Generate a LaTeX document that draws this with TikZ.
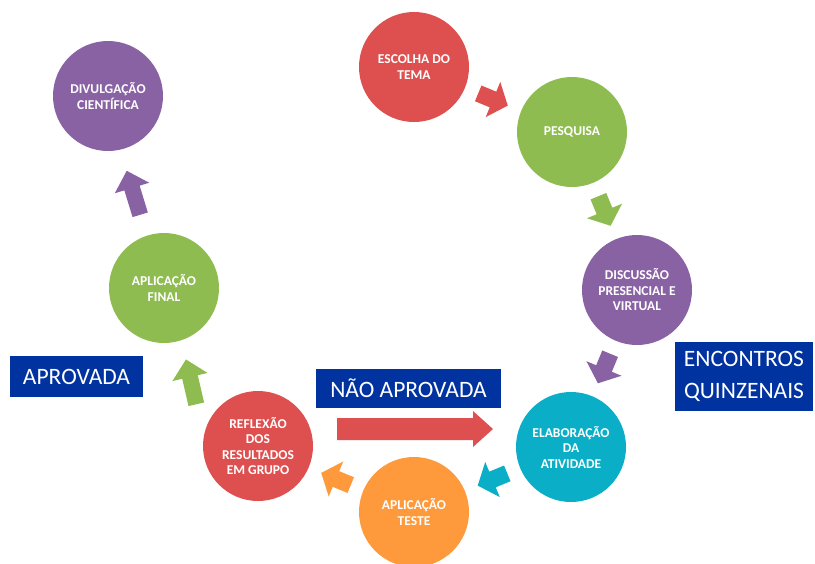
\documentclass[tikz,border=0pt]{standalone}
\usepackage{fontspec}
\setmainfont{Carlito}
\usetikzlibrary{calc}

\definecolor{cred}{HTML}{DE5050}
\definecolor{cgreen}{HTML}{8EBC50}
\definecolor{cpurple}{HTML}{8962A3}
\definecolor{cteal}{HTML}{0AAEC6}
\definecolor{corange}{HTML}{FE9A3C}
\definecolor{cblue}{HTML}{0033A0}

\begin{document}
\begin{tikzpicture}[x=1pt,y=-1pt,
  stage/.style={circle, minimum size=110pt, inner sep=0pt, text=white,
    align=center, font=\fontsize{13.5}{15.5}\selectfont\bfseries},
  tag/.style={fill=cblue, text=white, inner sep=0pt, align=center,
    font=\fontsize{23.5}{32}\selectfont},
  % short block arrow, origin at the base of the head
  arrowA/.pic={\path[pic actions] (-16,-8.5) -- (0,-8.5) -- (0,-19) -- (16,0)
      -- (0,19) -- (0,8.5) -- (-16,8.5) -- cycle;},
  % long block arrow, origin at the base of the head
  arrowB/.pic={\path[pic actions] (-28,-8) -- (0,-8) -- (0,-18) -- (18,0)
      -- (0,18) -- (0,8) -- (-28,8) -- cycle;},
]
\useasboundingbox (0,0) rectangle (815,563);

% stages of the cycle
\node[stage, fill=cred]    (tema)  at (414,67)  {ESCOLHA DO\\TEMA};
\node[stage, fill=cgreen]  (pesq)  at (572,132) {PESQUISA};
\node[stage, fill=cpurple] (disc)  at (637,290) {DISCUSSÃO\\PRESENCIAL E\\VIRTUAL};
\node[stage, fill=cteal]   (elab)  at (571,447) {ELABORAÇÃO\\DA\\ATIVIDADE};
\node[stage, fill=corange] (teste) at (414,512) {APLICAÇÃO\\TESTE};
\node[stage, fill=cred]    (refl)  at (258,446) {REFLEXÃO\\DOS\\RESULTADOS\\EM GRUPO};
\node[stage, fill=cgreen]  (final) at (164,288) {APLICAÇÃO\\FINAL};
\node[stage, fill=cpurple] (divul) at (108,96)  {DIVULGAÇÃO\\CIENTÍFICA};

% block arrows between the stages
\pic[fill=cred,    rotate=-22.5]  at ($(tema)!0.5!(pesq)$)  {arrowA};
\pic[fill=cgreen,  rotate=-67.5]  at ($(pesq)!0.5!(disc)$)  {arrowA};
\pic[fill=cpurple, rotate=-112.5] at ($(disc)!0.5!(elab)$)  {arrowA};
\pic[fill=cteal,   rotate=-157.5] at ($(elab)!0.5!(teste)$) {arrowA};
\pic[fill=corange, rotate=157.5]  at ($(teste)!0.5!(refl)$) {arrowA};
\pic[fill=cgreen,  rotate=103]    at (190,377) {arrowB};
\pic[fill=cpurple, rotate=107]    at (132,188) {arrowB};

% return arrow from the reflection back to the elaboration
\fill[cred] (337,418) -- (473,418) -- (473,411) -- (493,429) -- (473,447)
  -- (473,440) -- (337,440) -- cycle;

% labels
\node[tag, minimum width=138pt, minimum height=69pt] (enc) at (744,376.5) {ENCONTROS\\QUINZENAIS};
\node[tag, minimum width=185pt, minimum height=39pt] (nao) at (408.5,388.5) {NÃO APROVADA};
\node[tag, minimum width=133pt, minimum height=41pt] (apr) at (76.5,376.5) {APROVADA};
\end{tikzpicture}
\end{document}
